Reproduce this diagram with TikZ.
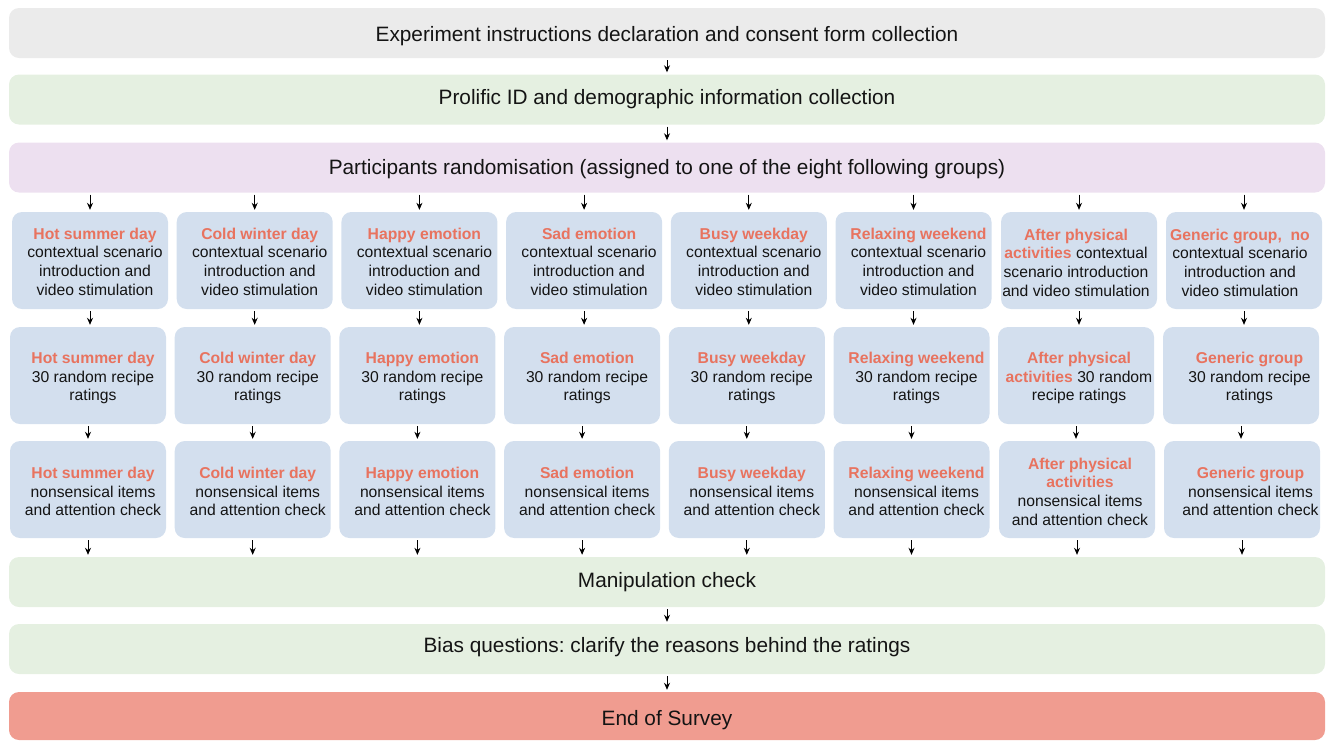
\documentclass[tikz,border=0pt]{standalone}
\usepackage{fontspec}
\setmainfont{Liberation Sans}
\usetikzlibrary{arrows.meta}
\frenchspacing
\definecolor{cgray}{HTML}{EBEBEB}
\definecolor{cgreen}{HTML}{E5F0E1}
\definecolor{cpurple}{HTML}{EDE0F0}
\definecolor{cblue}{HTML}{D3DFEE}
\definecolor{cred}{HTML}{F09C90}
\definecolor{hl}{HTML}{E8735F}
\newcommand\hl[1]{\textcolor{hl}{\bfseries #1}}
\tikzset{
  bar/.style={rectangle, rounded corners=10pt, minimum width=1316pt, minimum height=50pt, inner sep=0pt,
    font=\fontsize{20.8}{24}\selectfont, text=black!92, text depth=0pt},
  capoff/.style={text height=#1},
  grp/.style={rectangle, rounded corners=10pt, minimum width=156pt, minimum height=97pt, inner sep=0pt,
    fill=cblue},
  grptext/.style={inner sep=0pt, align=center, font=\fontsize{15.7}{18.7}\selectfont, text=black!92},
  arr/.style={-{Stealth[length=7pt,width=6pt]}, line width=0.9pt, shorten <=2pt, shorten >=2pt}
}
\begin{document}
\begin{tikzpicture}[x=1pt,y=-1pt]
\useasboundingbox (0,0) rectangle (1330,740);
\node[bar, fill=cgray, capoff=17.9pt] (b1) at (667,33) {Experiment instructions declaration and consent form collection};
\node[bar, fill=cgreen, capoff=10.9pt] (b2) at (667,99.5) {Prolific ID and demographic information collection};
\node[bar, fill=cpurple, capoff=14.9pt] (b3) at (667,167.5) {Participants randomisation (assigned to one of the eight following groups)};
\node[bar, fill=cgreen, capoff=10.5pt] (b4) at (667,582) {Manipulation check};
\node[bar, fill=cgreen, capoff=7.9pt] (b5) at (667,649) {Bias questions: clarify the reasons behind the ratings};
\node[bar, fill=cred, minimum height=48pt, capoff=18.9pt] (b6) at (667,716) {End of Survey};

\foreach \i/\n in {0/{Hot summer day},1/{Cold winter day},2/{Happy emotion},3/{Sad emotion},4/{Busy weekday},5/{Relaxing weekend}}{
  \node[grp] (r1-\i) at (90+164.7*\i,260.5) {};
  \node[grptext] (t1-\i) at ([xshift=5pt,yshift=-1pt]r1-\i.center) {\hl{\n}\\contextual scenario\\introduction and\\video stimulation};
  \node[grp] (r2-\i) at (88+164.7*\i,375.5) {};
  \node[grptext] (t2-\i) at ([xshift=5pt,yshift=-2.5pt]r2-\i.center) {\hl{\n}\\30 random recipe\\ratings};
  \node[grp] (r3-\i) at (88+164.7*\i,489.5) {};
  \node[grptext] (t3-\i) at ([xshift=5pt,yshift=-2pt]r3-\i.center) {\hl{\n}\\nonsensical items\\and attention check};
}
\node[grp] (r1-6) at (1079,260.5) {};
\node[grptext] (t1-6) at ([xshift=-3pt,yshift=-2pt]r1-6.center) {\hl{After physical}\\\hl{activities} contextual\\scenario introduction\\and video stimulation};
\node[grp] (r2-6) at (1076,375.5) {};
\node[grptext] (t2-6) at ([xshift=3pt,yshift=-2.5pt]r2-6.center) {\hl{After physical}\\\hl{activities} 30 random\\recipe ratings};
\node[grp] (r3-6) at (1077,489.5) {};
\node[grptext] (t3-6) at ([xshift=3pt,yshift=-2pt]r3-6.center) {\hl{After physical}\\\hl{activities}\\nonsensical items\\and attention check};
\node[grp] (r1-7) at (1244,260.5) {};
\node[grptext] (t1-7) at ([xshift=-4pt,yshift=-2pt]r1-7.center) {\hl{Generic group,\ \ no}\\contextual scenario\\introduction and\\video stimulation};
\node[grp] (r2-7) at (1241,375.5) {};
\node[grptext] (t2-7) at ([xshift=8.5pt,yshift=-2.5pt]r2-7.center) {\hl{Generic group}\\30 random recipe\\ratings};
\node[grp] (r3-7) at (1242,489.5) {};
\node[grptext] (t3-7) at ([xshift=8.5pt,yshift=-2pt]r3-7.center) {\hl{Generic group}\\nonsensical items\\and attention check};

\draw[arr] (b1) -- (b2);
\draw[arr] (b2) -- (b3);
\draw[arr] (b4) -- (b5);
\draw[arr] (b5) -- (b6);
\foreach \i in {0,...,7}{
  \draw[arr] (b3.south -| r1-\i.north) -- (r1-\i.north);
  \draw[arr] (r1-\i.south) -- (r1-\i.south |- r2-\i.north);
  \draw[arr] (r2-\i.south) -- (r2-\i.south |- r3-\i.north);
  \draw[arr] (r3-\i.south) -- (r3-\i.south |- b4.north);
}
\end{tikzpicture}
\end{document}
